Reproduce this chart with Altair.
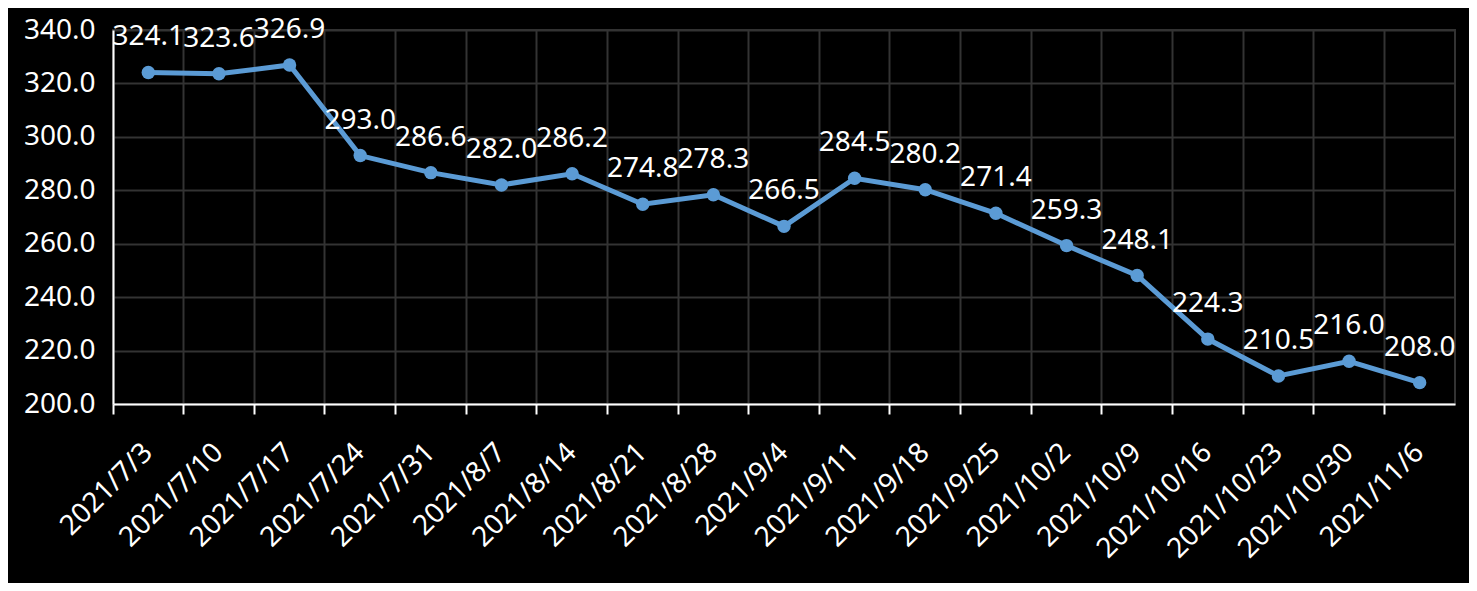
import altair as alt
import pandas as pd

dates = ["2021/7/3", "2021/7/10", "2021/7/17", "2021/7/24", "2021/7/31", "2021/8/7",
         "2021/8/14", "2021/8/21", "2021/8/28", "2021/9/4", "2021/9/11", "2021/9/18",
         "2021/9/25", "2021/10/2", "2021/10/9", "2021/10/16", "2021/10/23", "2021/10/30",
         "2021/11/6"]
values = [324.1, 323.6, 326.9, 293.0, 286.6, 282.0, 286.2, 274.8, 278.3, 266.5,
          284.5, 280.2, 271.4, 259.3, 248.1, 224.3, 210.5, 216.0, 208.0]
y_ticks = [200, 220, 240, 260, 280, 300, 320, 340]

df = pd.DataFrame({"date": dates, "value": values})

W, H = 1342, 374
FONT = "Noto Sans"
BLUE = "#5B9BD5"
GRID = "#333333"

xs = alt.Scale(type="band", domain=dates, paddingInner=0, paddingOuter=0)
ys = alt.Scale(domain=[200, 340], nice=False, zero=False)

x_axis = alt.Axis(
    title=None, bandPosition=0,
    labelAngle=-45, labelAlign="right", labelBaseline="middle",
    labelFontSize=28, labelColor="white", labelFont=FONT, labelPadding=34,
    grid=True, gridColor=GRID, gridWidth=2,
    ticks=True, tickColor="white", tickWidth=2, tickSize=10,
    domain=True, domainColor="white", domainWidth=2,
)
y_axis = alt.Axis(
    title=None, values=y_ticks, format=".1f",
    labelFontSize=28, labelColor="white", labelFont=FONT, labelPadding=18,
    grid=True, gridColor=GRID, gridWidth=2,
    ticks=False, domain=True, domainColor="white", domainWidth=2,
)

base = alt.Chart(df)
X = alt.X("date:N", sort=dates, scale=xs, axis=x_axis, bandPosition=0.5)
Y = alt.Y("value:Q", scale=ys, axis=y_axis)

line = base.mark_line(color=BLUE, strokeWidth=5).encode(x=X, y=Y)
pts = base.mark_circle(color=BLUE, size=180, opacity=1).encode(x=X, y=Y)
txt = base.mark_text(color="white", fontSize=28, font=FONT, dy=-35, align="center",
                     baseline="middle").encode(
    x=X, y=Y, text=alt.Text("value:Q", format=".1f"))

chart = (
    alt.layer(line, pts, txt)
    .properties(width=W, height=H, padding={"left": 105, "top": 22, "right": 14, "bottom": 179},
                autosize=alt.AutoSizeParams(type="none"))
    .configure(background="black")
    .configure_view(stroke=GRID, strokeWidth=2)
)

chart.save("out.html", embed_options={"renderer": "svg", "actions": False})
